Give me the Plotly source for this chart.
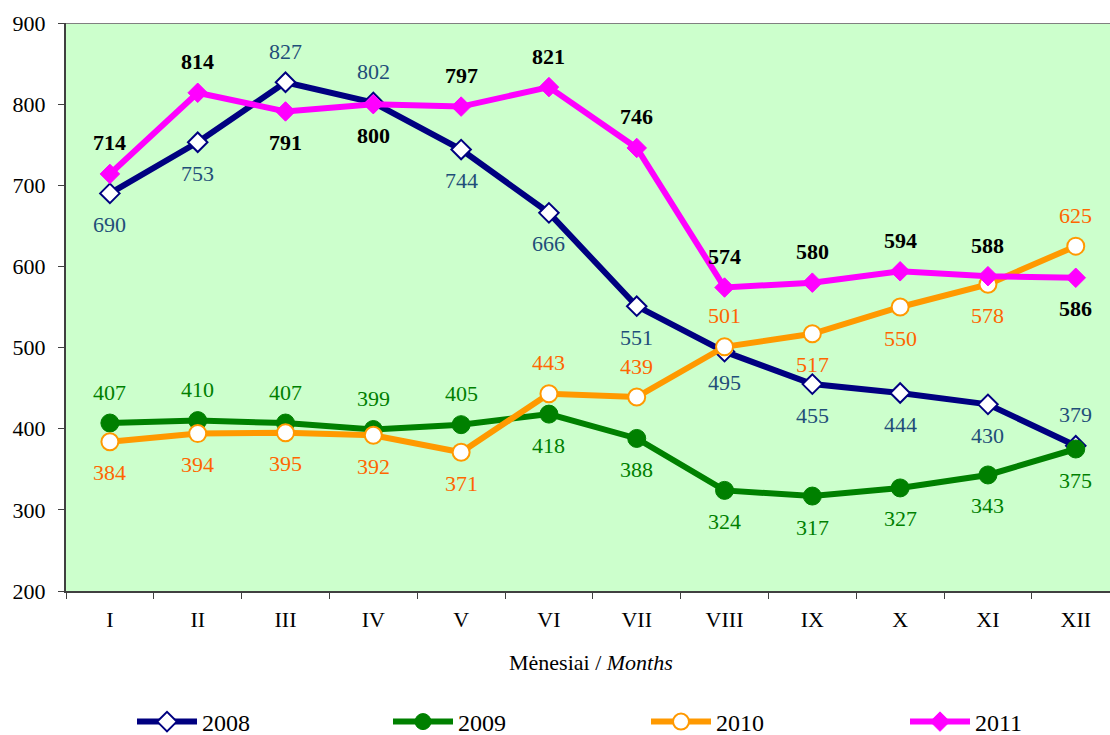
import plotly.graph_objects as go

months = ["I", "II", "III", "IV", "V", "VI", "VII", "VIII", "IX", "X", "XI", "XII"]
y2008 = [690, 753, 827, 802, 744, 666, 551, 495, 455, 444, 430, 379]
y2009 = [407, 410, 407, 399, 405, 418, 388, 324, 317, 327, 343, 375]
y2010 = [384, 394, 395, 392, 371, 443, 439, 501, 517, 550, 578, 625]
y2011 = [714, 814, 791, 800, 797, 821, 746, 574, 580, 594, 588, 586]

# label placement: +1 above, -1 below
pos2008 = [-1, -1, 1, 1, -1, -1, -1, -1, -1, -1, -1, 1]
pos2009 = [1, 1, 1, 1, 1, -1, -1, -1, -1, -1, -1, -1]
pos2010 = [-1, -1, -1, -1, -1, 1, 1, 1, -1, -1, -1, 1]
pos2011 = [1, 1, -1, -1, 1, 1, 1, 1, 1, 1, 1, -1]

FONT = "Liberation Serif, Times New Roman, serif"
W, H = 1110, 735

fig = go.Figure()
series = [
    ("2008", y2008, pos2008, dict(color="#000080", width=6),
     dict(symbol="diamond", size=15, color="white", line=dict(color="#000080", width=2)),
     "#1F4E79", False),
    ("2009", y2009, pos2009, dict(color="#008000", width=6),
     dict(symbol="circle", size=18, color="#008000", line=dict(color="#008000", width=1)),
     "#008000", False),
    ("2010", y2010, pos2010, dict(color="#FF9900", width=6),
     dict(symbol="circle", size=17, color="white", line=dict(color="#FF9900", width=2)),
     "#FF6600", False),
    ("2011", y2011, pos2011, dict(color="#FF00FF", width=6),
     dict(symbol="diamond", size=15, color="#FF00FF", line=dict(color="#FF00FF", width=1)),
     "#000000", True),
]
legend_text_x = [202, 458, 716, 975]

annotations = []
legends = {}
for i, (name, ys, pos, line, marker, lc, bold) in enumerate(series):
    lname = "legend" if i == 0 else f"legend{i + 1}"
    fig.add_trace(go.Scatter(x=months, y=ys, name=name, mode="lines+markers",
                             line=line, marker=marker, cliponaxis=False, legend=lname))
    legends[lname] = dict(xref="container", yref="container",
                          x=(legend_text_x[i] - 70) / W, y=1 - 722 / H,
                          xanchor="left", yanchor="middle", itemwidth=60,
                          font=dict(family=FONT, size=24, color="black"),
                          bgcolor="rgba(0,0,0,0)")
    for m, v, p in zip(months, ys, pos):
        txt = f"<b>{v}</b>" if bold else str(v)
        annotations.append(dict(x=m, y=v, xref="x", yref="y", text=txt, showarrow=False,
                                yshift=31 * p, font=dict(family=FONT, size=22, color=lc)))

annotations.append(dict(x=0.503, y=-0.125, xref="paper", yref="paper", yanchor="middle",
                        text="Mėnesiai / <i>Months</i>", showarrow=False,
                        font=dict(family=FONT, size=22, color="black")))

fig.update_layout(
    width=W, height=H,
    margin=dict(l=66, r=0, t=23, b=144, autoexpand=False),
    paper_bgcolor="white", plot_bgcolor="#CCFFCC",
    font=dict(family=FONT, size=22, color="black"),
    showlegend=True,
    annotations=annotations,
    shapes=[dict(type="line", xref="paper", yref="y", x0=0, x1=1, y0=900, y1=900,
                 line=dict(color="#808080", width=2))],
    **legends,
)

fig.update_xaxes(type="category", range=[-0.5, 11.39], tickson="boundaries", ticks="outside",
                 ticklen=6, tickcolor="#404040", showline=True, linecolor="#404040", linewidth=2,
                 showgrid=False, zeroline=False, tickangle=0, automargin=False,
                 ticklabelstandoff=8,
                 tickfont=dict(family=FONT, size=22, color="black"))
fig.update_yaxes(range=[200, 900], dtick=100, ticks="outside", ticklen=6, tickcolor="#404040",
                 showline=True, linecolor="#404040", linewidth=2, showgrid=False, zeroline=False,
                 ticklabelstandoff=8,
                 tickfont=dict(family=FONT, size=22, color="black"), automargin=False)

fig.write_html("out.html", config={"displayModeBar": False},
               post_script="document.body.style.margin='0';document.body.style.overflow='hidden';")
